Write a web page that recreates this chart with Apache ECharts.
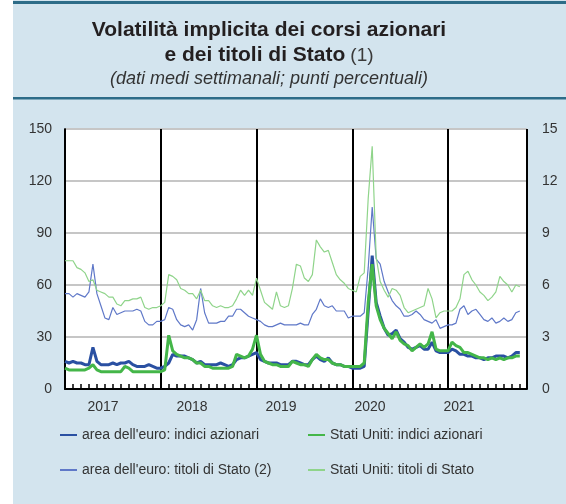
<!DOCTYPE html>
<html>
<head>
<meta charset="utf-8">
<script src="https://cdn.jsdelivr.net/npm/echarts@6.0.0/dist/echarts.min.js"></script>
<style>
  html, body { margin: 0; padding: 0; }
  #chart { width: 566px; height: 504px; }
</style>
</head>
<body>
<div id="chart"></div>
<script>
// weekly averages, read every half month starting January 2017 (x in months)
const monthStep = 0.5
const years = ['2017', '2018', '2019', '2020', '2021']

// left axis (punti percentuali)
const euEquity = [
  16, 15, 16, 15, 15, 14, 14, 24, 16, 14, 14, 14, 15, 14, 15, 15, 16, 14, 13, 13, 13, 14, 13, 12,
  12, 13, 15, 20, 19, 19, 19, 18, 17, 15, 16, 14, 14, 14, 14, 15, 14, 13, 14, 17, 18, 18, 19, 20,
  21, 17, 16, 15, 15, 15, 14, 14, 14, 16, 16, 15, 14, 14, 17, 19, 17, 16, 18, 15, 14, 14, 13, 13,
  12, 12, 12, 13, 45, 77, 50, 42, 35, 31, 32, 34, 29, 27, 24, 23, 24, 25, 23, 23, 27, 22, 21, 21,
  21, 23, 22, 20, 20, 19, 19, 18, 18, 17, 18, 18, 19, 19, 19, 18, 19, 21, 21
]
const usEquity = [
  12, 11, 11, 11, 11, 11, 12, 14, 11, 10, 10, 10, 10, 10, 10, 13, 12, 10, 10, 10, 10, 10, 10, 10,
  10, 11, 31, 22, 20, 19, 18, 18, 17, 15, 15, 13, 13, 12, 12, 12, 12, 12, 13, 20, 19, 18, 19, 23,
  31, 20, 16, 15, 14, 14, 13, 13, 13, 16, 15, 14, 14, 13, 17, 20, 18, 17, 17, 15, 14, 14, 13, 13,
  13, 13, 13, 15, 50, 72, 48, 40, 35, 32, 29, 33, 28, 26, 25, 22, 24, 26, 24, 26, 33, 23, 22, 22,
  22, 27, 25, 24, 21, 21, 20, 19, 18, 18, 17, 18, 17, 18, 17, 18, 18, 19, 19
]
// right axis
const euBonds = [
  5.5, 5.5, 5.3, 5.5, 5.4, 5.3, 5.6, 7.2, 5.5, 4.8, 4.1, 4.0, 4.7, 4.3, 4.4, 4.5, 4.5, 4.5, 4.6, 4.5, 3.9, 3.7, 3.7, 3.9,
  3.9, 4.0, 4.7, 4.6, 4.0, 3.7, 3.6, 3.7, 3.4, 4.0, 5.8, 4.4, 3.8, 3.8, 3.8, 3.9, 3.9, 4.2, 4.2, 4.6, 4.6, 4.4, 4.2, 4.1,
  4.0, 3.9, 3.7, 3.6, 3.6, 3.7, 3.8, 3.7, 3.7, 3.7, 3.7, 3.8, 3.7, 3.7, 4.3, 4.6, 5.2, 4.8, 4.7, 4.8, 4.5, 4.5, 4.5, 4.1,
  4.2, 4.2, 4.2, 4.4, 7.0, 10.5, 7.5, 7.2, 6.2, 5.6, 5.1, 4.8, 4.6, 4.2, 4.2, 4.3, 4.5, 4.3, 4.0, 3.9, 3.8, 4.0, 3.5, 3.6,
  3.7, 3.7, 3.8, 4.6, 4.8, 4.3, 4.5, 4.6, 4.3, 4.0, 3.9, 4.1, 3.8, 3.9, 4.1, 3.9, 4.0, 4.4, 4.5
]
const usBonds = [
  7.4, 7.4, 7.4, 7.0, 6.9, 6.7, 6.2, 6.3, 5.7, 5.6, 5.5, 5.3, 5.3, 4.9, 4.8, 5.1, 5.1, 5.2, 5.2, 5.3, 4.7, 4.6, 4.7, 4.7,
  4.8, 5.0, 6.6, 6.5, 6.3, 5.8, 5.7, 5.5, 5.5, 5.2, 5.7, 5.1, 5.1, 4.8, 4.7, 4.8, 4.7, 4.7, 4.8, 5.2, 5.7, 5.4, 5.7, 5.4,
  6.4, 5.7, 5.0, 4.8, 4.6, 5.6, 4.8, 4.7, 4.8, 5.8, 7.2, 7.1, 6.4, 6.2, 6.6, 8.6, 8.2, 7.9, 8.0, 7.3, 6.6, 6.3, 6.1, 5.8,
  5.7, 5.6, 6.5, 6.7, 11.0, 14.0, 7.6, 6.2, 5.7, 5.3, 5.8, 5.7, 5.4, 4.7, 4.4, 4.5, 4.6, 4.7, 4.8, 5.8, 5.2, 4.1, 4.4, 4.5,
  4.5, 4.5, 4.7, 5.2, 6.6, 6.8, 6.3, 6.0, 5.6, 5.4, 5.1, 5.3, 5.6, 6.5, 6.2, 6.0, 5.6, 6.0, 5.9
]

const font = 'Liberation Sans, Arial, sans-serif'
const toPairs = values => values.map((v, i) => [i * monthStep, v])

const chart = echarts.init(document.getElementById('chart'))
chart.setOption({
  animation: false,
  backgroundColor: '#d3e4ee',
  textStyle: { fontFamily: font },
  graphic: [
    { type: 'rect', shape: { x: 0, y: 0, width: 13, height: 504 }, style: { fill: '#ffffff' } },
    { type: 'rect', shape: { x: 13, y: 1, width: 553, height: 3 }, style: { fill: '#2d6c88' } },
    { type: 'rect', shape: { x: 13, y: 97, width: 553, height: 2.5 }, style: { fill: '#2d6c88' } }
  ],
  title: {
    text: '{b|Volatilità implicita dei corsi azionari}\n{b|e dei titoli di Stato} {n|(1)}',
    subtext: '(dati medi settimanali; punti percentuali)',
    left: 269,
    top: 18,
    textAlign: 'center',
    padding: 0,
    itemGap: 5,
    textStyle: {
      rich: {
        b: { fontSize: 21, fontWeight: 'bold', color: '#231f20', lineHeight: 25, fontFamily: font },
        n: { fontSize: 19, fontWeight: 'normal', color: '#3a3a3a', lineHeight: 25, fontFamily: font }
      }
    },
    subtextStyle: { fontSize: 18, fontStyle: 'italic', color: '#333', lineHeight: 20, fontFamily: font }
  },
  legend: [
    {
      left: 59, top: 428, orient: 'vertical', itemGap: 21, itemWidth: 17, itemHeight: 14, padding: 0,
      itemStyle: { opacity: 0 },
      textStyle: { fontSize: 14, color: '#333' },
      data: ["area dell'euro: indici azionari", "area dell'euro: titoli di Stato (2)"]
    },
    {
      left: 307, top: 428, orient: 'vertical', itemGap: 21, itemWidth: 17, itemHeight: 14, padding: 0,
      itemStyle: { opacity: 0 },
      textStyle: { fontSize: 14, color: '#333' },
      data: ['Stati Uniti: indici azionari', 'Stati Uniti: titoli di Stato']
    }
  ],
  grid: [
    { left: 65, right: 39, top: 129, bottom: 115, show: true, backgroundColor: '#ffffff', borderWidth: 0 },
    { left: 58.5, width: 445, top: 389, height: 1 }
  ],
  xAxis: [
    {
      type: 'value', gridIndex: 0, min: 0, max: 57.9, interval: 1,
      axisLine: { lineStyle: { color: '#000', width: 2 } },
      axisTick: { inside: true, length: 5, lineStyle: { color: '#000', width: 1.5 } },
      axisLabel: { show: false },
      splitLine: { show: false }
    },
    {
      type: 'value', gridIndex: 0, position: 'top', min: 0, max: 57.9, interval: 12,
      axisLine: { show: false },
      axisTick: { show: false },
      axisLabel: { show: false },
      splitLine: { show: true, lineStyle: { color: '#000', width: 2 } }
    },
    {
      type: 'category', gridIndex: 1, data: years, boundaryGap: true,
      axisLine: { show: false },
      axisTick: { show: false },
      axisLabel: { margin: 10, fontSize: 14, color: '#333' }
    }
  ],
  yAxis: [
    {
      type: 'value', gridIndex: 0, min: 0, max: 150, interval: 30,
      axisLine: { show: true, lineStyle: { color: '#000', width: 1.5 } },
      axisTick: { show: false },
      axisLabel: { margin: 13, fontSize: 14, color: '#333' },
      splitLine: { lineStyle: { color: '#c6c6c6', width: 2 } }
    },
    {
      type: 'value', gridIndex: 0, position: 'right', min: 0, max: 15, interval: 3,
      axisLine: { show: true, lineStyle: { color: '#000', width: 1.5 } },
      axisTick: { show: false },
      axisLabel: { margin: 15, fontSize: 14, color: '#333' },
      splitLine: { show: false }
    },
    { type: 'value', gridIndex: 1, show: false }
  ],
  series: [
    {
      name: "area dell'euro: titoli di Stato (2)", type: 'line', yAxisIndex: 1,
      showSymbol: false, symbol: 'none', color: '#5f78c8',
      lineStyle: { width: 1.2 }, data: toPairs(euBonds)
    },
    {
      name: 'Stati Uniti: titoli di Stato', type: 'line', yAxisIndex: 1,
      showSymbol: false, symbol: 'none', color: '#8fd48a',
      lineStyle: { width: 1.2 }, data: toPairs(usBonds)
    },
    {
      name: "area dell'euro: indici azionari", type: 'line',
      showSymbol: false, symbol: 'none', color: '#2a50a2',
      lineStyle: { width: 3 }, data: toPairs(euEquity)
    },
    {
      name: 'Stati Uniti: indici azionari', type: 'line',
      showSymbol: false, symbol: 'none', color: '#44b649',
      lineStyle: { width: 3 }, data: toPairs(usEquity)
    }
  ]
})
</script>
</body>
</html>
